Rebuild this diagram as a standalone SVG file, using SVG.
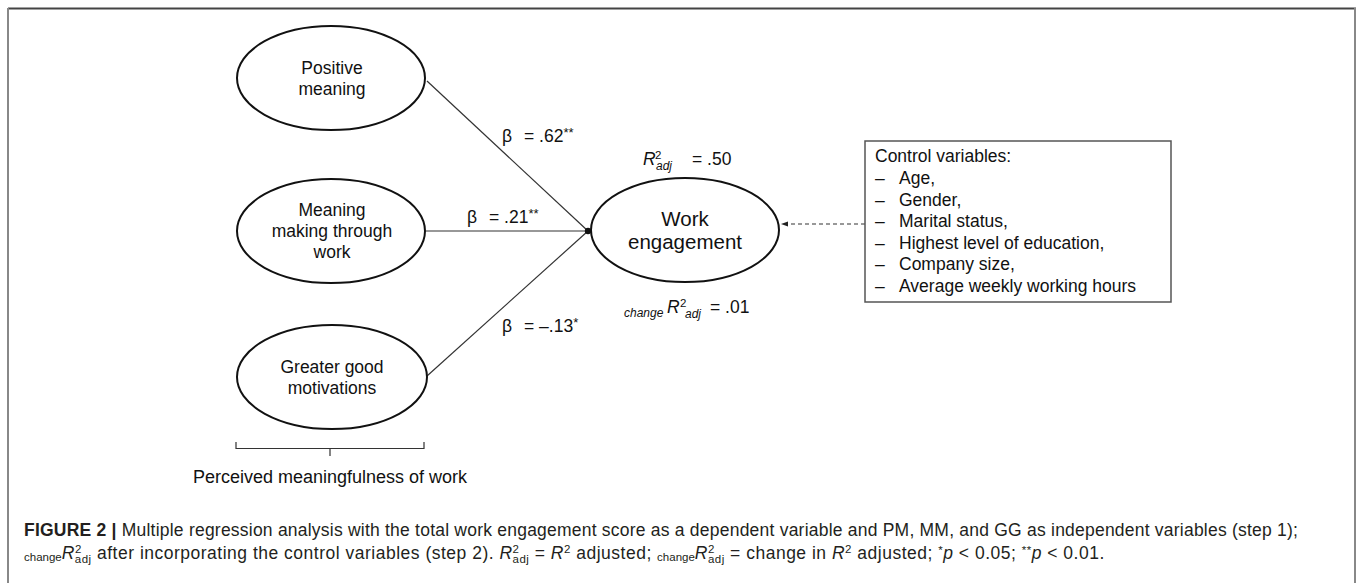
<svg xmlns="http://www.w3.org/2000/svg" width="1357" height="583" viewBox="0 0 1357 583">
<defs>
<style>
.t{font-family:"Liberation Sans",Arial,sans-serif;font-size:17.5px;fill:#111}
.big{font-size:20.5px}
.sm{font-size:12px;font-style:italic}
.c{text-anchor:middle}
.el{fill:#fff;stroke:#111;stroke-width:2}
.ln{stroke:#333;stroke-width:1.2;fill:none}
.cap{font-family:"Liberation Sans",Arial,sans-serif;font-size:17.5px;fill:#231f20}
</style>
<marker id="ah" markerWidth="8" markerHeight="8" refX="7" refY="4" orient="auto" markerUnits="userSpaceOnUse">
<path d="M0,1.5 L7,4 L0,6.5 Z" fill="#222"/>
</marker>
</defs>
<rect width="1357" height="583" fill="#fff"/>
<g id="frame">
<line x1="8" y1="8.5" x2="1356" y2="8.5" stroke="#444" stroke-width="2"/>
<line x1="8" y1="8" x2="8" y2="583" stroke="#888" stroke-width="2"/>
<line x1="1355" y1="8" x2="1355" y2="583" stroke="#888" stroke-width="2"/>
</g>
<g id="connectors">
<line class="ln" x1="427" y1="81" x2="588" y2="231"/>
<line class="ln" x1="426" y1="231" x2="588" y2="231"/>
<line class="ln" x1="427" y1="376" x2="588" y2="231"/>
<circle cx="588" cy="231" r="3.2" fill="#111"/>
<line x1="865" y1="224" x2="781" y2="224" stroke="#333" stroke-width="1.2" stroke-dasharray="4,3" marker-end="url(#ah)"/>
<path d="M236,442 V448.5 H424 V442 M330,448.5 V456" class="ln" stroke-width="1.3"/>
</g>
<g id="node-pm">
<ellipse class="el" cx="331" cy="78" rx="94" ry="52"/>
<text class="t c" x="332" y="74">Positive</text>
<text class="t c" x="332" y="95">meaning</text>
</g>
<g id="node-mm">
<ellipse class="el" cx="331" cy="231" rx="94" ry="52"/>
<text class="t c" x="332" y="216">Meaning</text>
<text class="t c" x="332" y="237">making through</text>
<text class="t c" x="332" y="258">work</text>
</g>
<g id="node-gg">
<ellipse class="el" cx="332" cy="377" rx="95" ry="52"/>
<text class="t c" x="332" y="373">Greater good</text>
<text class="t c" x="332" y="394">motivations</text>
</g>
<g id="node-we">
<ellipse class="el" cx="685" cy="230" rx="94" ry="52"/>
<text class="t big c" x="685" y="226">Work</text>
<text class="t big c" x="685" y="249">engagement</text>
</g>
<g id="node-controls">
<rect x="865" y="141" width="306" height="161" fill="#fff" stroke="#555" stroke-width="1.5"/>
<text class="t" x="875" y="162">Control variables:</text>
<text class="t" x="875" y="184">–</text><text class="t" x="899" y="184">Age,</text>
<text class="t" x="875" y="205.5">–</text><text class="t" x="899" y="205.5">Gender,</text>
<text class="t" x="875" y="227">–</text><text class="t" x="899" y="227">Marital status,</text>
<text class="t" x="875" y="248.5">–</text><text class="t" x="899" y="248.5">Highest level of education,</text>
<text class="t" x="875" y="270">–</text><text class="t" x="899" y="270">Company size,</text>
<text class="t" x="875" y="291.5">–</text><text class="t" x="899" y="291.5">Average weekly working hours</text>
</g>
<g id="labels">
<text class="t" y="142"><tspan x="502">β</tspan><tspan x="524">= .62</tspan><tspan font-size="13" dy="-5">**</tspan></text>
<text class="t" y="223"><tspan x="467">β</tspan><tspan x="489">= .21</tspan><tspan font-size="13" dy="-5">**</tspan></text>
<text class="t" y="332"><tspan x="502">β</tspan><tspan x="524">= –.13</tspan><tspan font-size="13" dy="-5">*</tspan></text>
<text class="t" y="165"><tspan x="643" font-style="italic">R</tspan><tspan x="655" dy="-6" font-size="11.5">2</tspan></text>
<text class="t sm" y="170" x="656">adj</text>
<text class="t" x="692" y="165">= .50</text>
<text class="t sm" y="317" x="624">change</text>
<text class="t" y="313"><tspan x="667" font-style="italic">R</tspan><tspan x="680" dy="-6" font-size="11.5">2</tspan></text>
<text class="t sm" y="318" x="685">adj</text>
<text class="t" x="710" y="313">= .01</text>
<text class="t c" x="330" y="483" style="font-size:18px">Perceived meaningfulness of work</text>
</g>
<g id="caption">
<text class="cap" x="24" y="536" letter-spacing="0.22"><tspan font-weight="bold">FIGURE 2 |</tspan> Multiple regression analysis with the total work engagement score as a dependent variable and PM, MM, and GG as independent variables (step 1);</text>
<text class="cap" y="559" letter-spacing="0.5"><tspan x="24" font-size="11.5" dy="2" letter-spacing="0">change</tspan><tspan font-style="italic" dy="-2">R</tspan><tspan font-size="11.5" dy="-6">2</tspan><tspan font-size="11.5" dx="-7" dy="10">adj</tspan><tspan dy="-4"> after incorporating the control variables (step 2). </tspan><tspan font-style="italic">R</tspan><tspan font-size="11.5" dy="-6">2</tspan><tspan font-size="11.5" dx="-7" dy="10">adj</tspan><tspan dy="-4"> = </tspan><tspan font-style="italic">R</tspan><tspan font-size="11.5" dy="-6">2</tspan><tspan dy="6"> adjusted; </tspan><tspan font-size="11.5" dy="2" letter-spacing="0">change</tspan><tspan font-style="italic" dy="-2">R</tspan><tspan font-size="11.5" dy="-6">2</tspan><tspan font-size="11.5" dx="-7" dy="10">adj</tspan><tspan dy="-4"> = change in </tspan><tspan font-style="italic">R</tspan><tspan font-size="11.5" dy="-6">2</tspan><tspan dy="6"> adjusted; </tspan><tspan font-size="11.5" dy="-5">*</tspan><tspan font-style="italic" dy="5">p</tspan><tspan> &lt; 0.05; </tspan><tspan font-size="11.5" dy="-5">**</tspan><tspan font-style="italic" dy="5">p</tspan><tspan> &lt; 0.01.</tspan></text>
</g>
</svg>
